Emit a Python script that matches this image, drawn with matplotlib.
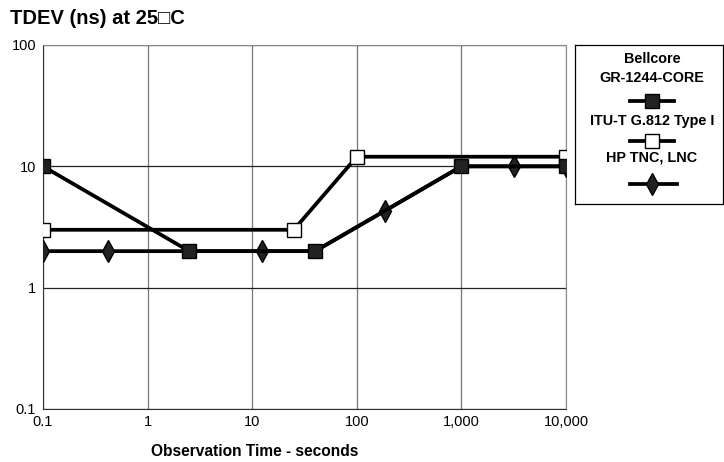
import matplotlib.pyplot as plt
import matplotlib.ticker as mticker
from matplotlib.lines import Line2D

plt.rcParams["font.family"] = ["Liberation Sans", "DejaVu Sans"]

# data
bell_x = [0.1, 2.5, 40, 1000, 10000]
bell_y = [10, 2, 2, 10, 10]
itu_x = [0.1, 25, 100, 10000]
itu_y = [3, 3, 12, 12]
hp_x = [0.1, 0.42, 12.5, 40, 186, 1000, 3200, 10000]
hp_y = [2, 2, 2, 2, 4.3, 10, 10, 10]
hp_marked = [0, 1, 2, 4, 6, 7]  # the others sit under Bellcore squares

x_ticks = [0.1, 1, 10, 100, 1000, 10000]
x_labels = ["0.1", "1", "10", "100", "1,000", "10,000"]
y_ticks = [0.1, 1, 10, 100]
y_labels = ["0.1", "1", "10", "100"]

fig = plt.figure(figsize=(7.24, 4.62), dpi=100)
ax = fig.add_axes([43 / 724, 53 / 462, 523 / 724, 364 / 462])

ax.set_xscale("log")
ax.set_yscale("log")
ax.set_xlim(0.1, 10000)
ax.set_ylim(0.1, 100)

lw = 2.7
ax.plot(hp_x, hp_y, color="black", lw=lw, marker="d", ms=11, markevery=hp_marked,
        mfc="#222222", mec="black", zorder=3)
ax.plot(itu_x, itu_y, color="black", lw=lw, marker="s", ms=10,
        mfc="white", mec="black", mew=1.0, zorder=4)
ax.plot(bell_x, bell_y, color="black", lw=lw, marker="s", ms=10,
        mfc="#222222", mec="black", zorder=5)

ax.set_xticks(x_ticks)
ax.set_xticklabels(x_labels)
ax.set_yticks(y_ticks)
ax.set_yticklabels(y_labels)
ax.xaxis.set_minor_locator(mticker.NullLocator())
ax.yaxis.set_minor_locator(mticker.NullLocator())
ax.tick_params(length=0, labelsize=10.5)
ax.tick_params(axis="x", pad=4)
ax.tick_params(axis="y", pad=5)
ax.grid(True, axis="x", color="#777777", lw=0.9)
ax.grid(True, axis="y", color="#222222", lw=0.9)
for s in ["top", "right"]:
    ax.spines[s].set_color("#888888")
for s in ["left", "bottom"]:
    ax.spines[s].set_color("#333333")

# axis title sits left of the axes centre in the original
fig.text(255 / 724, 1 - 451 / 462, "Observation Time - seconds", fontsize=11.2,
         fontweight="bold", ha="center", va="center")
fig.text(10 / 724, 1 - 18 / 462, "TDEV (ns) at 25\u25a1C", fontsize=14.5,
         fontweight="bold", va="center", ha="left")

# legend box
lax = fig.add_axes([575 / 724, 1 - 204 / 462, 148 / 724, 159 / 462])
lax.set_xlim(0, 1)
lax.set_ylim(204, 45)
lax.set_xticks([])
lax.set_yticks([])
for s in lax.spines.values():
    s.set_color("black")
    s.set_linewidth(0.9)

kw = dict(ha="center", va="center", fontsize=10.4, fontweight="bold")
lax.text(0.52, 59, "Bellcore", **kw)
lax.text(0.52, 78, "GR-1244-CORE", **kw)
lax.text(0.52, 121, "ITU-T G.812 Type I", **kw)
lax.text(0.52, 158, "HP TNC, LNC", **kw)
lax.add_line(Line2D([0.37, 0.52, 0.67], [101, 101, 101], color="black", lw=lw, marker="s",
                    ms=10, markevery=[1], mfc="#222222", mec="black"))
lax.add_line(Line2D([0.37, 0.52, 0.67], [141, 141, 141], color="black", lw=lw, marker="s",
                    ms=10, markevery=[1], mfc="white", mec="black", mew=1.0))
lax.add_line(Line2D([0.37, 0.52, 0.69], [184, 184, 184], color="black", lw=lw, marker="d",
                    ms=11, markevery=[1], mfc="#222222", mec="black"))

fig.savefig("out.png", dpi=100)
